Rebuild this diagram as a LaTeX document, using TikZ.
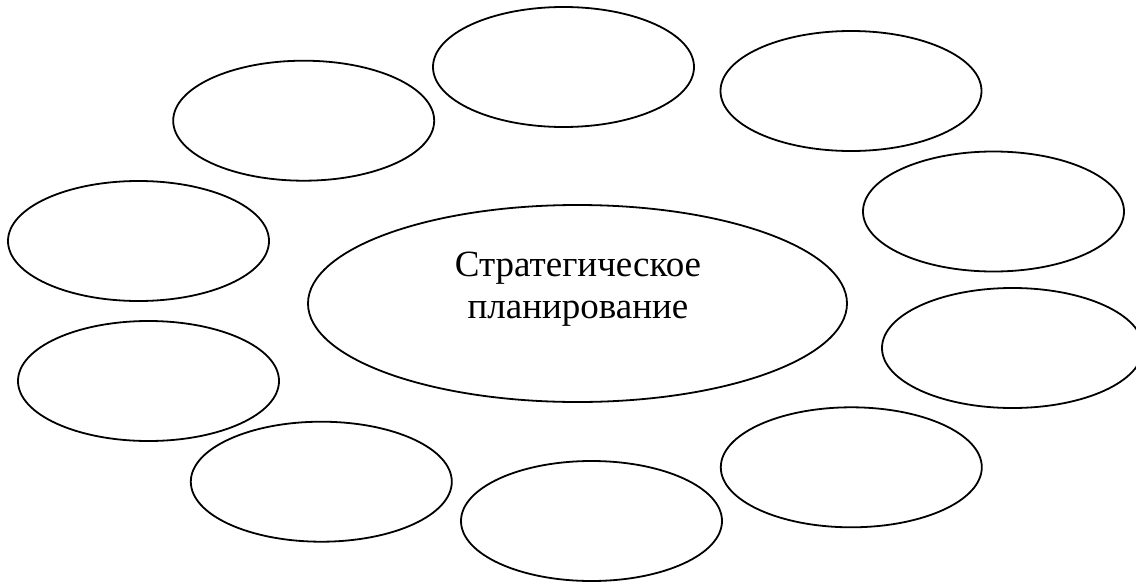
\documentclass[tikz,border=0pt]{standalone}
\usepackage{fontspec}
\setmainfont{Liberation Serif}
\usetikzlibrary{shapes.geometric}
\begin{document}
\begin{tikzpicture}[x=1pt,y=-1pt,
  oval/.style={draw=black,line width=1.8pt,ellipse,inner sep=0pt,
    minimum width=261pt,minimum height=120pt},
  bigoval/.style={oval,minimum width=539pt,minimum height=197pt},
  lbl/.style={align=center,inner sep=0pt,
    font=\fontsize{37}{42}\selectfont}]
\useasboundingbox (0,0) rectangle (1136,584);
\clip (0,0) rectangle (1136,584);
\fill[white] (0,0) rectangle (1136,584);
\node[oval] (e1) at (563.5,67) {};
\node[oval] (e2) at (851,91) {};
\node[oval] (e3) at (303.7,120.7) {};
\node[oval] (e4) at (993.5,211.5) {};
\node[oval] (e5) at (138.5,241) {};
\node[bigoval] (c) at (577.5,303.5) {};
\node[oval] (e7) at (1012.5,348) {};
\node[oval] (e8) at (148.5,381) {};
\node[oval] (e9) at (851.3,467.3) {};
\node[oval] (e10) at (321.3,481.7) {};
\node[oval] (e11) at (591.5,521) {};
\node[lbl] (t) at (578,289) {Стратегическое\\планирование};
\end{tikzpicture}
\end{document}
